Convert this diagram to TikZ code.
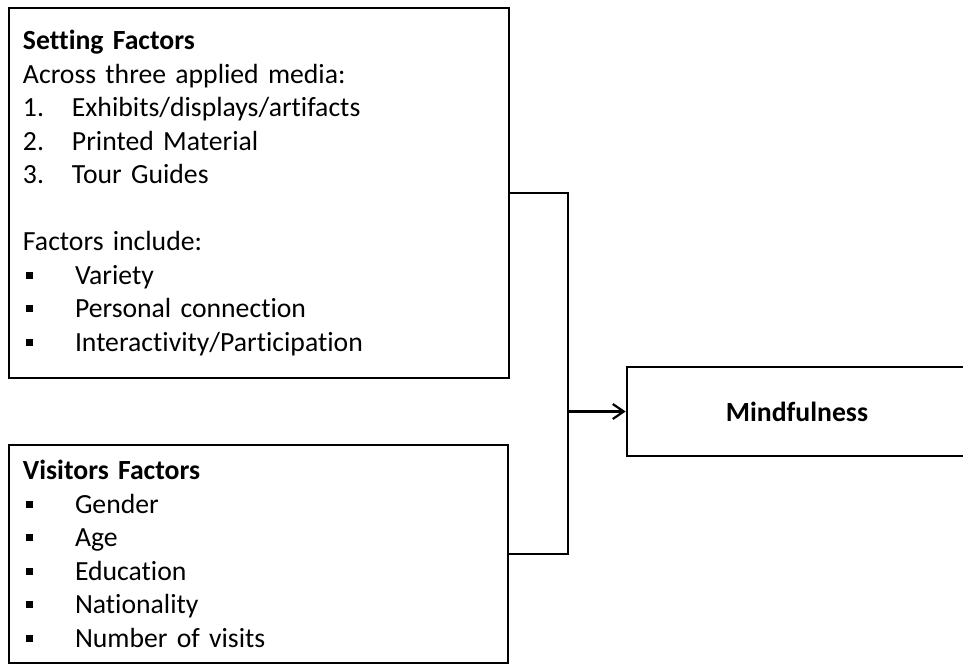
\documentclass[tikz,border=0pt]{standalone}
\usepackage{fontspec}
\setmainfont{Carlito}[Ligatures=NoCommon, WordSpace=0.8]
\usetikzlibrary{arrows.meta}
\newcommand{\nitem}[2]{\makebox[49pt][l]{#1.}#2}
\newcommand{\bitem}[1]{\makebox[52pt][l]{\hspace{3pt}\rule[5.5pt]{7pt}{7pt}}#1}
\tikzset{
  factorbox/.style={draw, line width=2.6pt, inner xsep=14pt, align=left,
    font=\fontsize{27.7}{33.5}\selectfont},
  link/.style={line width=2.2pt}
}
\begin{document}
\begin{tikzpicture}[x=1pt,y=1pt]
\useasboundingbox (0,0) rectangle (963,-664);
\node[factorbox, text width=472pt, minimum height=370pt] (setting) at (259,-193)
  {\textbf{Setting Factors}\\
   Across three applied media:\\
   \nitem{1}{Exhibits/displays/artifacts}\\
   \nitem{2}{Printed Material}\\
   \nitem{3}{Tour Guides}\\
   ~\\
   Factors include:\\
   \bitem{Variety}\\
   \bitem{Personal connection}\\
   \bitem{Interactivity/Participation}};
\node[factorbox, text width=471pt, minimum height=218pt] (visitors) at (258.5,-554)
  {\textbf{Visitors Factors}\\
   \bitem{Gender}\\
   \bitem{Age}\\
   \bitem{Education}\\
   \bitem{Nationality}\\
   \bitem{Number of visits}};
\node[draw, line width=2.6pt, minimum width=340pt, minimum height=89pt,
  font=\fontsize{27.7}{30}\selectfont\bfseries] (mind) at (797,-411.5) {Mindfulness};
\coordinate (join) at (568,-411.5);
\draw[link] (setting.east) -| (join) |- (visitors.east);
\draw[link, -{Straight Barb[length=11pt,width=15pt,line width=2.2pt]}] (join) -- (mind.west);
\end{tikzpicture}
\end{document}
